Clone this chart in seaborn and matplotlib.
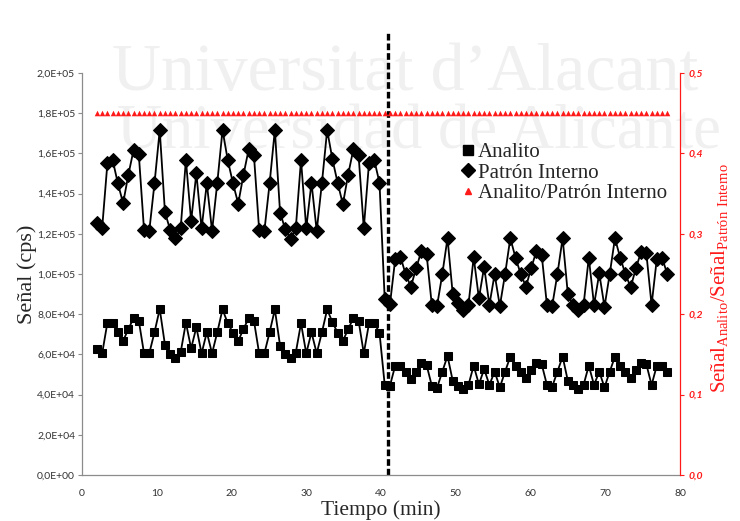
import numpy as np
import matplotlib.pyplot as plt
import seaborn as sns
from matplotlib.lines import Line2D

# Tiempo de muestreo (min), una medida cada 0,7 min
tiempo = np.round(2.0 + 0.7 * np.arange(110), 1)

# Señal del patrón interno (cps)
patron = [125200, 123000, 155100, 156700, 145100, 135200, 149300, 161700, 159500, 121900,
          121400, 145100, 171600, 130700, 121900, 117800, 122700, 156700, 126400, 150100,
          122700, 145100, 121400, 145400, 171600, 156700, 145100, 135000, 149300, 162000,
          159200, 121900, 121400, 145100, 171600, 130500, 122200, 117400, 122700, 156700,
          122700, 145400, 121400, 145400, 171600, 157100, 145400, 134700, 149300, 162000,
          159200, 122700, 155400, 156700, 145400, 87400, 84900, 107300, 108600, 99900,
          93700, 102800, 111400, 109800, 84600, 84100, 99900, 117800, 89900, 85700,
          82100, 84600, 108300, 87900, 103600, 84600, 99900, 84100, 99900, 117800,
          108100, 99900, 93700, 103100, 111400, 109500, 84600, 84100, 99900, 117800,
          89900, 84600, 82100, 84600, 108100, 84600, 100300, 83700, 100000, 117800,
          108100, 100000, 93400, 102800, 111100, 110300, 84600, 107500, 108100, 100000]

# Señal del analito (cps)
analito = [62500, 60500, 75800, 75800, 71000, 66700, 72600, 78000, 76800, 60500,
           60500, 71000, 82600, 64700, 60200, 58400, 61000, 75800, 63000, 73500,
           60500, 71000, 60500, 71000, 82400, 75500, 70800, 66700, 72600, 78000,
           76800, 60500, 60500, 71000, 82400, 64300, 60000, 58100, 60800, 75500,
           60500, 71000, 60500, 71000, 82400, 76000, 70800, 66700, 72500, 78000,
           76800, 60500, 75500, 75500, 70800, 44800, 44400, 54400, 54400, 51400,
           47600, 51400, 55600, 54700, 44400, 43400, 51400, 59200, 46800, 44300,
           42600, 44800, 54400, 45100, 52700, 44800, 51400, 43600, 51400, 58900,
           54400, 51400, 48100, 52200, 55900, 55100, 44800, 43900, 51400, 58900,
           46800, 44800, 42600, 44800, 54400, 44800, 51400, 43600, 51400, 58900,
           54400, 51400, 48100, 52200, 55900, 55100, 44800, 54400, 54400, 51400]

# Cociente Analito/Patrón Interno
cociente = [0.45, 0.45, 0.45, 0.45, 0.45, 0.45, 0.45, 0.45, 0.45, 0.45,
            0.45, 0.45, 0.45, 0.45, 0.45, 0.45, 0.45, 0.45, 0.45, 0.45,
            0.45, 0.45, 0.45, 0.45, 0.45, 0.45, 0.45, 0.45, 0.45, 0.45,
            0.45, 0.45, 0.45, 0.45, 0.45, 0.45, 0.45, 0.45, 0.45, 0.45,
            0.45, 0.45, 0.45, 0.45, 0.45, 0.45, 0.45, 0.45, 0.45, 0.45,
            0.45, 0.45, 0.45, 0.45, 0.45, 0.45, 0.45, 0.45, 0.45, 0.45,
            0.45, 0.45, 0.45, 0.45, 0.45, 0.45, 0.45, 0.45, 0.45, 0.45,
            0.45, 0.45, 0.45, 0.45, 0.45, 0.45, 0.45, 0.45, 0.45, 0.45,
            0.45, 0.45, 0.45, 0.45, 0.45, 0.45, 0.45, 0.45, 0.45, 0.45,
            0.45, 0.45, 0.45, 0.45, 0.45, 0.45, 0.45, 0.45, 0.45, 0.45,
            0.45, 0.45, 0.45, 0.45, 0.45, 0.45, 0.45, 0.45, 0.45, 0.45]

t_cambio = 40.9

yticks_izq = [0, 20000, 40000, 60000, 80000, 100000, 120000, 140000, 160000, 180000, 200000]
yticks_der = [0.0, 0.1, 0.2, 0.3, 0.4, 0.5]
xticks = [0, 10, 20, 30, 40, 50, 60, 70, 80]

#%% Estilo

sns.set_style('white')
plt.rcParams['font.family'] = ['Lato', 'DejaVu Sans']
plt.rcParams['mathtext.fontset'] = 'custom'
plt.rcParams['mathtext.rm'] = 'Liberation Serif'

serif = 'Liberation Serif'
gris = '#8c8c8c'
rojo = '#ff1a1a'

fig = plt.figure(figsize=(7.4, 5.21), dpi=100)
ax = fig.add_axes([0.1108, 0.0883, 0.8081, 0.7716])
ax.patch.set_alpha(0)
ax2 = ax.twinx()
ax2.patch.set_alpha(0)

# marca de agua
fig.text(0.548, 0.827, 'Universitat d\u2019Alacant', family=serif, fontsize=49,
         color='#f0f0f0', ha='center', va='baseline', zorder=-1)
fig.text(0.566, 0.716, 'Universidad de Alicante', family=serif, fontsize=45,
         color='#f0f0f0', ha='center', va='baseline', zorder=-1)

#%% Series

sns.lineplot(x=tiempo, y=patron, ax=ax, color='black', linewidth=1.3,
             marker='D', markersize=7, markeredgecolor='black')
sns.lineplot(x=tiempo, y=analito, ax=ax, color='black', linewidth=1.3,
             marker='s', markersize=6.3, markeredgecolor='black')
sns.scatterplot(x=tiempo, y=cociente, ax=ax2, marker='^', s=16,
                color=rojo, edgecolor=rojo, linewidth=0)

ax.axvline(t_cambio, ymin=0, ymax=1.1, clip_on=False, color='black',
           linewidth=2.4, dashes=(2, 0.9))

#%% Ejes

ax.set_xlim(0, 80)
ax.set_ylim(0, 200000)
ax2.set_ylim(0, 0.5)

ax.set_xticks(xticks)
ax.set_xticklabels([str(v) for v in xticks])
ax.set_yticks(yticks_izq)
ax.set_yticklabels([f'{v:.1E}'.replace('.', ',') for v in yticks_izq])
ax2.set_yticks(yticks_der)
ax2.set_yticklabels([f'{v:.1f}'.replace('.', ',') for v in yticks_der],
                    fontstyle='italic', fontweight='bold')

ax.tick_params(axis='x', direction='out', length=3, width=0.8, color=gris,
               labelsize=7.5, labelcolor='#333333', pad=7)
ax.tick_params(axis='y', direction='out', length=3, width=0.8, color=gris,
               labelsize=7.5, labelcolor='#333333', pad=2)
ax2.tick_params(axis='y', direction='out', length=3, width=0.8, color=rojo,
                labelsize=7.5, labelcolor=rojo, pad=3)

for s in ['top', 'right']:
    ax.spines[s].set_visible(False)
for s in ['top', 'left', 'bottom']:
    ax2.spines[s].set_visible(False)
ax.spines['left'].set_color(gris)
ax.spines['bottom'].set_color(gris)
ax2.spines['right'].set_color(rojo)
for sp in [ax.spines['left'], ax.spines['bottom'], ax2.spines['right']]:
    sp.set_linewidth(0.9)

ax.set_xlabel('Tiempo (min)', family=serif, fontsize=15.5, labelpad=2)
ax.set_ylabel('Señal (cps)', family=serif, fontsize=16)
ax.yaxis.set_label_coords(-0.075, 0.5)
ax2.set_ylabel('Señal$_{\\mathregular{Analito}}$/Señal$_{\\mathregular{Patrón\\ Interno}}$',
               family=serif, fontsize=15, color=rojo)
ax2.yaxis.set_label_coords(1.049, 0.49)

#%% Leyenda

handles = [Line2D([], [], marker='s', color='black', linestyle='None', markersize=7),
           Line2D([], [], marker='D', color='black', linestyle='None', markersize=7),
           Line2D([], [], marker='^', color=rojo, linestyle='None', markersize=4)]
ax2.legend(handles, ['Analito', 'Patrón Interno', 'Analito/Patrón Interno'],
           loc='upper left', bbox_to_anchor=(0.619, 0.853), frameon=False,
           prop={'family': serif, 'size': 15}, handlelength=0.5,
           handletextpad=0.25, labelspacing=0.05, borderpad=0)

fig.savefig('out.png', dpi=100)
